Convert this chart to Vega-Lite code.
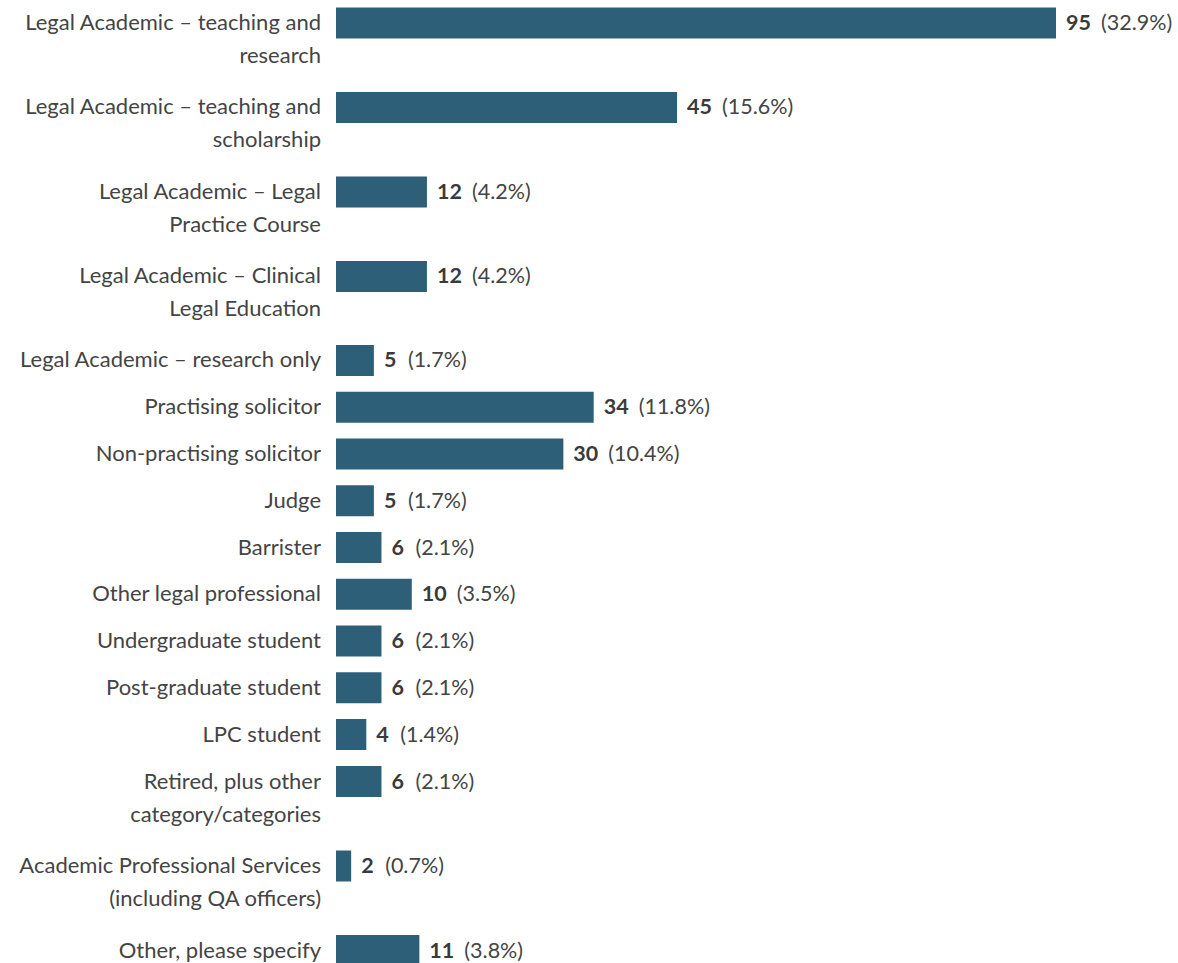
{
  "$schema": "https://vega.github.io/schema/vega-lite/v6.json",
  "padding": {"left": 19, "top": 0, "right": 0, "bottom": 0},
  "spacing": 0,
  "config": {"view": {"stroke": null}, "font": "Lato", "concat": {"spacing": 0}},
  "datasets": {
    "academic": [
      {"label": "Legal Academic – teaching and\nresearch", "count": 95, "pct": 32.9},
      {"label": "Legal Academic – teaching and\nscholarship", "count": 45, "pct": 15.6},
      {"label": "Legal Academic – Legal\u00a0\nPractice Course", "count": 12, "pct": 4.2},
      {"label": "Legal Academic – Clinical\u00a0\nLegal Education", "count": 12, "pct": 4.2}
    ],
    "professional": [
      {"label": "Legal Academic – research only", "count": 5, "pct": 1.7},
      {"label": "Practising solicitor", "count": 34, "pct": 11.8},
      {"label": "Non-practising solicitor", "count": 30, "pct": 10.4},
      {"label": "Judge", "count": 5, "pct": 1.7},
      {"label": "Barrister", "count": 6, "pct": 2.1},
      {"label": "Other legal professional", "count": 10, "pct": 3.5},
      {"label": "Undergraduate student", "count": 6, "pct": 2.1},
      {"label": "Post-graduate student", "count": 6, "pct": 2.1},
      {"label": "LPC student", "count": 4, "pct": 1.4}
    ],
    "other": [
      {"label": "Retired, plus other\ncategory/categories", "count": 6, "pct": 2.1},
      {"label": "Academic Professional Services\n(including QA officers)", "count": 2, "pct": 0.7},
      {"label": "Other, please specify", "count": 11, "pct": 3.8}
    ]
  },
  "vconcat": [
    {
      "width": 720,
      "height": 337,
      "data": {"name": "academic"},
      "transform": [{"calculate": "'(' + format(datum.pct, '.1f') + '%)'", "as": "pctText"}],
      "encoding": {
        "y": {"field": "label", "type": "nominal", "sort": null, "scale": {"type": "point", "padding": 0.494, "align": 0.275}, "axis": null}
      },
      "layer": [
        {"mark": {"type": "bar", "height": 31, "color": "#2e5f78", "clip": true},
         "encoding": {"x": {"field": "count", "type": "quantitative", "scale": {"domain": [0, 95], "nice": false}, "axis": null}}},
        {"mark": {"type": "text", "align": "right", "baseline": "alphabetic", "dx": -15, "dy": 7, "fontSize": 22, "lineHeight": 33, "lineBreak": "\n", "color": "#444444"},
         "encoding": {"x": {"value": 0}, "text": {"field": "label"}}},
        {"mark": {"type": "text", "align": "left", "baseline": "alphabetic", "dx": 10, "dy": 7, "fontSize": 21.5, "fontWeight": "bold", "color": "#3a3a3a"},
         "encoding": {"x": {"field": "count", "type": "quantitative"}, "text": {"field": "count"}}},
        {"transform": [{"filter": "datum.count < 10"}],
         "mark": {"type": "text", "align": "left", "baseline": "alphabetic", "dx": 34, "dy": 7, "fontSize": 21.5, "color": "#444444"},
         "encoding": {"x": {"field": "count", "type": "quantitative"}, "text": {"field": "pctText"}}},
        {"transform": [{"filter": "datum.count >= 10"}],
         "mark": {"type": "text", "align": "left", "baseline": "alphabetic", "dx": 45, "dy": 7, "fontSize": 21.5, "color": "#444444"},
         "encoding": {"x": {"field": "count", "type": "quantitative"}, "text": {"field": "pctText"}}}
      ]
    },
    {
      "width": 720,
      "height": 421,
      "data": {"name": "professional"},
      "transform": [{"calculate": "'(' + format(datum.pct, '.1f') + '%)'", "as": "pctText"}],
      "encoding": {
        "y": {"field": "label", "type": "nominal", "sort": null, "scale": {"type": "point", "padding": 0.5025, "align": 0.5}, "axis": null}
      },
      "layer": [
        {"mark": {"type": "bar", "height": 31, "color": "#2e5f78", "clip": true},
         "encoding": {"x": {"field": "count", "type": "quantitative", "scale": {"domain": [0, 95], "nice": false}, "axis": null}}},
        {"mark": {"type": "text", "align": "right", "baseline": "alphabetic", "dx": -15, "dy": 7, "fontSize": 22, "lineHeight": 33, "lineBreak": "\n", "color": "#444444"},
         "encoding": {"x": {"value": 0}, "text": {"field": "label"}}},
        {"mark": {"type": "text", "align": "left", "baseline": "alphabetic", "dx": 10, "dy": 7, "fontSize": 21.5, "fontWeight": "bold", "color": "#3a3a3a"},
         "encoding": {"x": {"field": "count", "type": "quantitative"}, "text": {"field": "count"}}},
        {"transform": [{"filter": "datum.count < 10"}],
         "mark": {"type": "text", "align": "left", "baseline": "alphabetic", "dx": 34, "dy": 7, "fontSize": 21.5, "color": "#444444"},
         "encoding": {"x": {"field": "count", "type": "quantitative"}, "text": {"field": "pctText"}}},
        {"transform": [{"filter": "datum.count >= 10"}],
         "mark": {"type": "text", "align": "left", "baseline": "alphabetic", "dx": 45, "dy": 7, "fontSize": 21.5, "color": "#444444"},
         "encoding": {"x": {"field": "count", "type": "quantitative"}, "text": {"field": "pctText"}}}
      ]
    },
    {
      "width": 720,
      "height": 205,
      "data": {"name": "other"},
      "transform": [{"calculate": "'(' + format(datum.pct, '.1f') + '%)'", "as": "pctText"}],
      "encoding": {
        "y": {"field": "label", "type": "nominal", "sort": null, "scale": {"type": "point", "padding": 0.213, "align": 0.653}, "axis": null}
      },
      "layer": [
        {"mark": {"type": "bar", "height": 31, "color": "#2e5f78", "clip": true},
         "encoding": {"x": {"field": "count", "type": "quantitative", "scale": {"domain": [0, 95], "nice": false}, "axis": null}}},
        {"mark": {"type": "text", "align": "right", "baseline": "alphabetic", "dx": -15, "dy": 7, "fontSize": 22, "lineHeight": 33, "lineBreak": "\n", "color": "#444444"},
         "encoding": {"x": {"value": 0}, "text": {"field": "label"}}},
        {"mark": {"type": "text", "align": "left", "baseline": "alphabetic", "dx": 10, "dy": 7, "fontSize": 21.5, "fontWeight": "bold", "color": "#3a3a3a"},
         "encoding": {"x": {"field": "count", "type": "quantitative"}, "text": {"field": "count"}}},
        {"transform": [{"filter": "datum.count < 10"}],
         "mark": {"type": "text", "align": "left", "baseline": "alphabetic", "dx": 34, "dy": 7, "fontSize": 21.5, "color": "#444444"},
         "encoding": {"x": {"field": "count", "type": "quantitative"}, "text": {"field": "pctText"}}},
        {"transform": [{"filter": "datum.count >= 10"}],
         "mark": {"type": "text", "align": "left", "baseline": "alphabetic", "dx": 45, "dy": 7, "fontSize": 21.5, "color": "#444444"},
         "encoding": {"x": {"field": "count", "type": "quantitative"}, "text": {"field": "pctText"}}}
      ]
    }
  ]
}
